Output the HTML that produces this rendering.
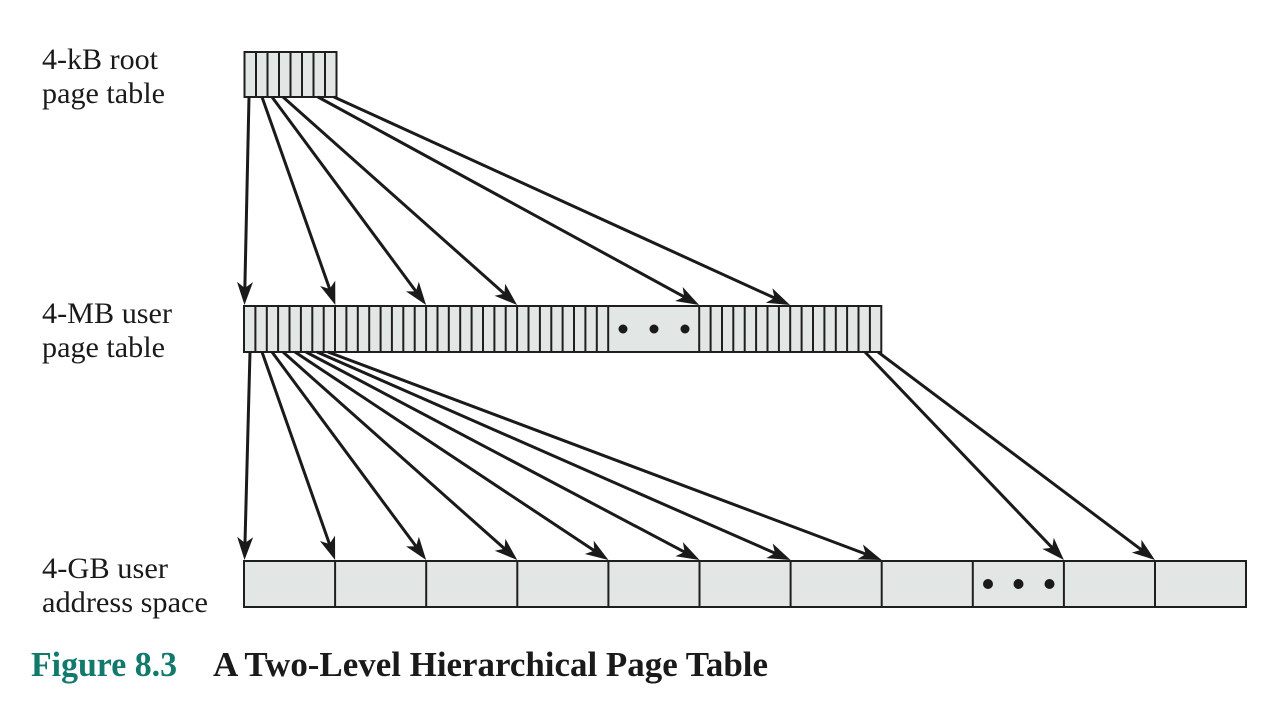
<!DOCTYPE html>
<html><head><meta charset="utf-8"><style>
html,body{margin:0;padding:0;background:#fff;}
svg{display:block;}
</style></head><body>
<svg width="1282" height="716" viewBox="0 0 1282 716" xmlns="http://www.w3.org/2000/svg">
<defs>
<marker id="a" markerUnits="userSpaceOnUse" markerWidth="26" markerHeight="20" refX="13" refY="0" viewBox="0 -10 26 20" orient="auto" overflow="visible">
<path d="M0,-8 L23,0 L0,8 L6,0 Z" fill="#1a1a1a"/>
</marker>
</defs>
<rect width="1282" height="716" fill="#fff"/>

<g font-family="'Liberation Serif', serif" font-size="30" fill="#1a1a1a">
<text x="42" y="69" textLength="116" lengthAdjust="spacingAndGlyphs">4-kB root</text>
<text x="42" y="103" textLength="123" lengthAdjust="spacingAndGlyphs">page table</text>
<text x="42" y="323" textLength="130" lengthAdjust="spacingAndGlyphs">4-MB user</text>
<text x="42" y="357" textLength="123" lengthAdjust="spacingAndGlyphs">page table</text>
<text x="42" y="578" textLength="126" lengthAdjust="spacingAndGlyphs">4-GB user</text>
<text x="42" y="612" textLength="166" lengthAdjust="spacingAndGlyphs">address space</text>
</g>

<!-- root table -->
<rect x="244.5" y="52" width="92" height="45" fill="#e2e6e5" stroke="#1e1e1e" stroke-width="2"/>
<path d="M256,52V97M267.5,52V97M279,52V97M290.5,52V97M302,52V97M313.5,52V97M325,52V97" stroke="#1e1e1e" stroke-width="2"/>

<!-- user page table -->
<rect x="244" y="306" width="637.3" height="46" fill="#e2e6e5" stroke="#1e1e1e" stroke-width="2"/>
<path stroke="#1e1e1e" stroke-width="2" fill="none" d="
M255.4,306V352M266.8,306V352M278.1,306V352M289.5,306V352M300.9,306V352M312.3,306V352M323.7,306V352M335,306V352
M346.4,306V352M357.8,306V352M369.2,306V352M380.6,306V352M391.9,306V352M403.3,306V352M414.7,306V352M426.1,306V352
M437.5,306V352M448.8,306V352M460.2,306V352M471.6,306V352M483,306V352M494.4,306V352M505.7,306V352M517.1,306V352
M528.5,306V352M539.9,306V352M551.3,306V352M562.6,306V352M574,306V352M585.4,306V352M596.8,306V352M608.2,306V352
M699.2,306V352M710.6,306V352M722,306V352M733.3,306V352M744.7,306V352M756.1,306V352M767.5,306V352M778.9,306V352
M790.2,306V352M801.6,306V352M813,306V352M824.4,306V352M835.8,306V352M847.1,306V352M858.5,306V352M869.9,306V352"/>
<g fill="#1a1a1a">
<circle cx="623" cy="329" r="4.5"/><circle cx="654" cy="329" r="4.5"/><circle cx="685" cy="329" r="4.5"/>
</g>

<!-- address space -->
<rect x="244" y="561" width="1002" height="46" fill="#e2e6e5" stroke="#1e1e1e" stroke-width="2"/>
<path stroke="#1e1e1e" stroke-width="2" fill="none" d="M335.1,561V607M426.2,561V607M517.3,561V607M608.4,561V607M699.5,561V607M790.6,561V607M881.7,561V607M972.8,561V607M1063.9,561V607M1155,561V607"/>
<g fill="#1a1a1a">
<circle cx="988" cy="584" r="5"/><circle cx="1018.5" cy="584" r="5"/><circle cx="1049.5" cy="584" r="5"/>
</g>

<!-- arrows root -> user table -->
<g stroke="#1a1a1a" stroke-width="3" fill="none" marker-end="url(#a)">
<line x1="249" y1="97" x2="244.7" y2="295"/>
<line x1="262" y1="97" x2="332" y2="295.6"/>
<line x1="272" y1="97" x2="420.1" y2="297"/>
<line x1="283" y1="97" x2="509.6" y2="298.4"/>
<line x1="318" y1="97" x2="690.3" y2="300.2"/>
<line x1="334" y1="97" x2="780.9" y2="300.9"/>
</g>

<!-- arrows user table -> address space -->
<g stroke="#1a1a1a" stroke-width="3" fill="none" marker-end="url(#a)">
<line x1="250" y1="352" x2="244.8" y2="550"/>
<line x1="262" y1="352" x2="331.8" y2="550.6"/>
<line x1="272" y1="352" x2="420.2" y2="552"/>
<line x1="283" y1="352" x2="509.8" y2="553.4"/>
<line x1="295" y1="352" x2="600.1" y2="554.5"/>
<line x1="306" y1="352" x2="690.7" y2="555.3"/>
<line x1="317" y1="352" x2="781.4" y2="556"/>
<line x1="328" y1="352" x2="872.3" y2="556.5"/>
<line x1="865" y1="352" x2="1057" y2="552.8"/>
<line x1="878" y1="352" x2="1147" y2="554"/>
</g>

<!-- caption -->
<text x="31" y="676" font-family="'Liberation Serif', serif" font-weight="bold" font-size="35" fill="#117a6d" textLength="146" lengthAdjust="spacingAndGlyphs">Figure 8.3</text>
<text x="213" y="676" font-family="'Liberation Serif', serif" font-weight="bold" font-size="35" fill="#1a1a1a" textLength="555" lengthAdjust="spacingAndGlyphs">A Two-Level Hierarchical Page Table</text>
</svg>
</body></html>
